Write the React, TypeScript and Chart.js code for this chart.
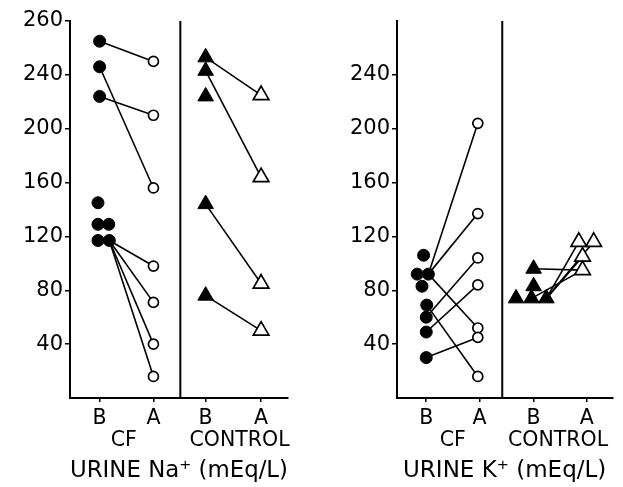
import React, { useEffect, useRef } from "react";
import { Chart, registerables } from "chart.js";
Chart.register(...registerables);

// ---- axis ticks ----
const yTickValues = [40, 80, 120, 160, 200, 240, 280];
const naYTickLabels = ["40", "80", "120", "160", "200", "240", "260"];
const kYTickLabels = ["40", "80", "120", "160", "200", "240", ""];
const phaseLabels = ["B", "A", "B", "A"];
const groupLabels = ["CF", "CONTROL"];
const naPhaseTicks = [1, 2, 2.97, 4];
const kPhaseTicks = [1, 2, 3.02, 4.02];
const naGroupCenters = [1.45, 3.6];
const kGroupCenters = [1.5, 3.48];
const naDivider = 2.5;
const kDivider = 2.43;

// ---- Urine Na+ : CF ----
const naCfBefore = [265, 246, 224, 145, 129, 129, 117, 117];
const naCfBeforeX = [1, 1, 1, 0.97, 0.97, 1.17, 0.97, 1.18];
const naCfAfter = [250, 210, 156, 98, 71, 40, 16];
const naCfAfterX = [2, 2, 2, 2, 2, 2, 2];
const naCfLinks = [[0, 0], [1, 2], [2, 1], [7, 3], [7, 4], [7, 5], [7, 6]];

// ---- Urine Na+ : Control ----
const naCtlBefore = [253, 243, 224, 144, 76];
const naCtlBeforeX = [2.97, 2.97, 2.97, 2.97, 2.97];
const naCtlAfter = [225, 164, 85, 50];
const naCtlAfterX = [4, 4, 4, 4];
const naCtlLinks = [[0, 0], [1, 1], [3, 2], [4, 3]];

// ---- Urine K+ : CF ----
const kCfBefore = [106, 92, 92, 83, 69, 60, 49, 30];
const kCfBeforeX = [0.95, 0.83, 1.04, 0.92, 1.01, 1, 1, 1];
const kCfAfter = [204, 137, 104, 84, 52, 45, 16];
const kCfAfterX = [1.97, 1.97, 1.97, 1.97, 1.97, 1.97, 1.97];
const kCfLinks = [[2, 0], [2, 1], [5, 2], [6, 3], [2, 4], [4, 6], [7, 5]];

// ---- Urine K+ : Control ----
const kCtlBefore = [96, 83, 74, 74, 74];
const kCtlBeforeX = [3.02, 3.02, 2.69, 2.98, 3.26];
const kCtlAfter = [116, 116, 105, 95];
const kCtlAfterX = [3.87, 4.15, 3.94, 3.94];
const kCtlLinks = [[0, 3], [4, 0], [4, 1], [4, 2], [3, 3]];

const FONT = "'DejaVu Sans', 'Liberation Sans', sans-serif";

type Group = {
  before: number[]; beforeX: number[]; after: number[]; afterX: number[];
  links: number[][]; style: "circle" | "triangle";
};

function buildDatasets(groups: Group[]) {
  const ds: any[] = [];
  groups.forEach((g) => {
    const filledR = g.style === "circle" ? 6 : 9;
    const openR = g.style === "circle" ? 5 : 9;
    g.links.forEach(([bi, ai]) => {
      ds.push({
        data: [
          { x: g.beforeX[bi], y: g.before[bi] },
          { x: g.afterX[ai], y: g.after[ai] },
        ],
        showLine: true,
        borderColor: "#000",
        borderWidth: 1.6,
        pointRadius: 0,
        order: 2,
      });
    });
    ds.push({
      data: g.before.map((v, i) => ({ x: g.beforeX[i], y: v })),
      pointStyle: g.style,
      pointRadius: filledR,
      pointBackgroundColor: "#000",
      pointBorderColor: "#000",
      pointBorderWidth: 1,
      showLine: false,
      order: 1,
    });
    ds.push({
      data: g.after.map((v, i) => ({ x: g.afterX[i], y: v })),
      pointStyle: g.style,
      pointRadius: openR,
      pointBackgroundColor: "#fff",
      pointBorderColor: "#000",
      pointBorderWidth: 1.7,
      showLine: false,
      order: 0,
    });
  });
  return ds;
}

type PanelProps = {
  width: number;
  yAxisWidth: number;
  padRight: number;
  yLabels: string[];
  phaseTicks: number[];
  groupCenters: number[];
  divider: number;
  title: string;
  groups: Group[];
};

function Panel(p: PanelProps) {
  const ref = useRef<HTMLCanvasElement | null>(null);
  useEffect(() => {
    if (!ref.current) return;
    // combined x ticks: phase ticks (B/A, first line) + group names (second line)
    const xTicks = [
      ...p.phaseTicks.map((v, i) => ({ value: v, label: phaseLabels[i] as any, mark: true })),
      ...p.groupCenters.map((v, i) => ({ value: v, label: ["", groupLabels[i]] as any, mark: false })),
    ].sort((a, b) => a.value - b.value);

    const dividerPlugin = {
      id: "divider",
      beforeDatasetsDraw(chart: any) {
        const { ctx, chartArea, scales } = chart;
        const x = scales.x.getPixelForValue(p.divider);
        ctx.save();
        ctx.strokeStyle = "#000";
        ctx.lineWidth = 2;
        ctx.beginPath();
        ctx.moveTo(x, chartArea.top);
        ctx.lineTo(x, chartArea.bottom);
        ctx.stroke();
        ctx.restore();
      },
    };
    const chart = new Chart(ref.current, {
      type: "scatter",
      data: { datasets: buildDatasets(p.groups) },
      options: {
        animation: false,
        responsive: false,
        devicePixelRatio: 1,
        layout: { padding: { top: 21, right: p.padRight, bottom: 2, left: 0 } },
        plugins: { legend: { display: false }, tooltip: { enabled: false } },
        scales: {
          y: {
            type: "linear",
            min: 0,
            max: 280,
            afterBuildTicks: (s: any) => {
              s.ticks = yTickValues.map((v) => ({ value: v }));
            },
            afterFit: (s: any) => {
              s.width = p.yAxisWidth;
            },
            ticks: {
              callback: (_v: any, i: number) => p.yLabels[i],
              font: { family: FONT, size: 21 },
              color: "#000",
              padding: 2,
            },
            grid: {
              drawOnChartArea: false,
              drawTicks: true,
              tickLength: 5,
              color: (c: any) =>
                c.tick && c.tick.value === 280 && p.yLabels[p.yLabels.length - 1] === ""
                  ? "rgba(0,0,0,0)"
                  : "#000",
              lineWidth: 1.5,
            },
            border: { display: true, color: "#000", width: 2 },
          },
          x: {
            type: "linear",
            position: "bottom",
            min: 0.45,
            max: 4.5,
            afterBuildTicks: (s: any) => {
              s.ticks = xTicks.map((t) => ({ value: t.value }));
            },
            afterFit: (s: any) => {
              s.height = 87;
            },
            ticks: {
              callback: (_v: any, i: number) => (xTicks[i] ? xTicks[i].label : ""),
              font: { family: FONT, size: 20.5, lineHeight: 1.1 },
              color: "#000",
              padding: 5,
              maxRotation: 0,
              autoSkip: false,
            },
            grid: {
              drawOnChartArea: false,
              drawTicks: true,
              tickLength: 4,
              color: (c: any) =>
                c.index !== undefined && xTicks[c.index] && !xTicks[c.index].mark
                  ? "rgba(0,0,0,0)"
                  : "#000",
              lineWidth: 1.5,
            },
            border: { display: true, color: "#000", width: 2 },
            title: {
              display: true,
              text: p.title,
              font: { family: FONT, size: 23 },
              color: "#000",
              padding: 0,
            },
          },
        },
      } as any,
      plugins: [dividerPlugin],
    });
    return () => chart.destroy();
  }, []);
  return (
    <canvas
      ref={ref}
      width={p.width}
      height={487}
      style={{ display: "block", width: p.width, height: 487 }}
    />
  );
}

export default function App() {
  return (
    <div
      style={{
        position: "absolute",
        left: 0,
        top: 0,
        width: 623,
        height: 487,
        background: "#fff",
        display: "flex",
      }}
    >
      <Panel
        width={310}
        yAxisWidth={70}
        padRight={22}
        yLabels={naYTickLabels}
        phaseTicks={naPhaseTicks}
        groupCenters={naGroupCenters}
        divider={naDivider}
        title="URINE Na⁺ (mEq/L)"
        groups={[
          { before: naCfBefore, beforeX: naCfBeforeX, after: naCfAfter, afterX: naCfAfterX, links: naCfLinks, style: "circle" },
          { before: naCtlBefore, beforeX: naCtlBeforeX, after: naCtlAfter, afterX: naCtlAfterX, links: naCtlLinks, style: "triangle" },
        ]}
      />
      <Panel
        width={313}
        yAxisWidth={87}
        padRight={8}
        yLabels={kYTickLabels}
        phaseTicks={kPhaseTicks}
        groupCenters={kGroupCenters}
        divider={kDivider}
        title="URINE K⁺ (mEq/L)"
        groups={[
          { before: kCfBefore, beforeX: kCfBeforeX, after: kCfAfter, afterX: kCfAfterX, links: kCfLinks, style: "circle" },
          { before: kCtlBefore, beforeX: kCtlBeforeX, after: kCtlAfter, afterX: kCtlAfterX, links: kCtlLinks, style: "triangle" },
        ]}
      />
    </div>
  );
}
